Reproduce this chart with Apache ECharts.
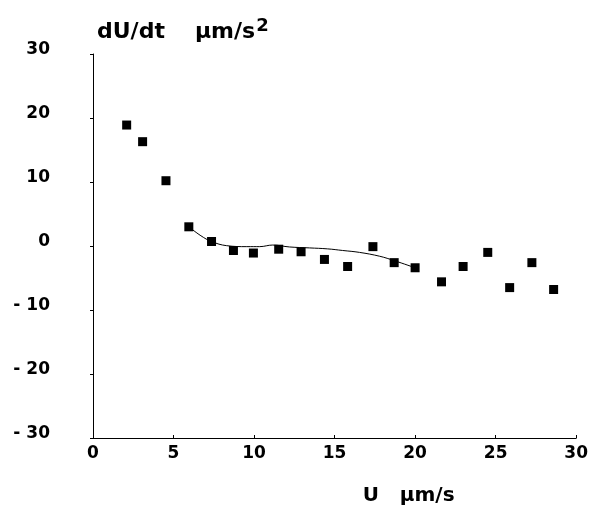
<!DOCTYPE html>
<html>
<head>
<meta charset="utf-8">
<script src="https://cdn.jsdelivr.net/npm/echarts@6/dist/echarts.min.js"></script>
<style>
  html, body { margin: 0; padding: 0; background: #fff; }
  #chart { width: 591px; height: 511px; }
</style>
</head>
<body>
<div id="chart"></div>
<script>
// Measured acceleration dU/dt against speed U
const speedU = [2.09, 3.08, 4.53, 5.95, 7.36, 8.72, 9.96, 11.53, 12.92, 14.37,
                15.81, 17.38, 18.70, 20.0, 21.64, 22.98, 24.51, 25.87, 27.25, 28.6];
const accel = [18.9, 16.3, 10.2, 3.0, 0.7, -0.7, -1.1, -0.5, -0.9, -2.1,
               -3.2, -0.1, -2.6, -3.4, -5.6, -3.2, -1.0, -6.5, -2.6, -6.8];

// Smoothed trend through the mid-speed range
const fitU = [5.95, 6.7, 7.36, 8.3, 9.55, 10.35, 11.16, 12.2, 13.45, 14.57, 15.5, 16.55, 17.8, 18.72, 20.0];
const fitA = [3.0, 1.6, 0.7, 0.05, -0.1, -0.1, 0.15, -0.15, -0.3, -0.45, -0.7, -1.0, -1.6, -2.3, -3.4];

// Axis ticks
const xTicks = [0, 5, 10, 15, 20, 25, 30];
const yTicks = [-30, -20, -10, 0, 10, 20, 30];
const yTickLabels = ['- 30', '- 20', '- 10', '0', '10', '20', '30'];

const tickFont = { fontFamily: 'DejaVu Sans', fontWeight: 'bold', fontSize: 17, color: '#000' };

const chart = echarts.init(document.getElementById('chart'));
chart.setOption({
  animation: false,
  backgroundColor: '#fff',
  title: {
    left: 92,
    top: 12,
    text: '{a|dU/dt}{b|µm/s}{c|2}',
    textStyle: {
      rich: {
        a: { fontFamily: 'DejaVu Sans', fontWeight: 'bold', fontSize: 22, color: '#000', verticalAlign: 'bottom', lineHeight: 26 },
        b: { fontFamily: 'DejaVu Sans', fontWeight: 'bold', fontSize: 22, color: '#000', verticalAlign: 'bottom', lineHeight: 26, padding: [0, 0, 0, 30] },
        c: { fontFamily: 'DejaVu Sans', fontWeight: 'bold', fontSize: 18, color: '#000', verticalAlign: 'bottom', lineHeight: 26, padding: [0, 0, 8, 1] }
      }
    }
  },
  grid: { left: 93, right: 14, top: 54, bottom: 73 },
  xAxis: {
    type: 'value',
    min: 0, max: 30, interval: 5,
    name: 'U   µm/s',
    nameLocation: 'middle',
    nameGap: 48,
    nameTextStyle: {
      fontFamily: 'DejaVu Sans', fontWeight: 'bold', fontSize: 20, color: '#000',
      padding: [0, 0, 0, 148]
    },
    axisLine: { show: true, onZero: false, lineStyle: { color: '#000', width: 1 } },
    axisTick: { show: true, inside: true, length: 3, lineStyle: { color: '#000' } },
    axisLabel: Object.assign({ margin: 7, formatter: v => xTicks.includes(v) ? String(v) : '' }, tickFont),
    splitLine: { show: false }
  },
  yAxis: {
    type: 'value',
    min: -30, max: 30, interval: 10,
    axisLine: { show: true, onZero: false, lineStyle: { color: '#000', width: 1 } },
    axisTick: { show: true, length: 3, lineStyle: { color: '#000' } },
    axisLabel: Object.assign({
      margin: 43,
      verticalAlign: 'bottom',
      lineHeight: 9,
      formatter: v => {
        const i = yTicks.indexOf(v);
        return i >= 0 ? yTickLabels[i] : '';
      }
    }, tickFont),
    splitLine: { show: false }
  },
  series: [
    {
      name: 'trend',
      type: 'line',
      data: fitU.map((u, i) => [u, fitA[i]]),
      smooth: 0.4,
      showSymbol: false,
      lineStyle: { color: '#000', width: 1 },
      z: 2
    },
    {
      name: 'dU/dt',
      type: 'scatter',
      data: speedU.map((u, i) => [u, accel[i]]),
      symbol: 'rect',
      symbolSize: 9,
      itemStyle: { color: '#000', opacity: 1 },
      z: 3
    }
  ]
});
</script>
</body>
</html>
